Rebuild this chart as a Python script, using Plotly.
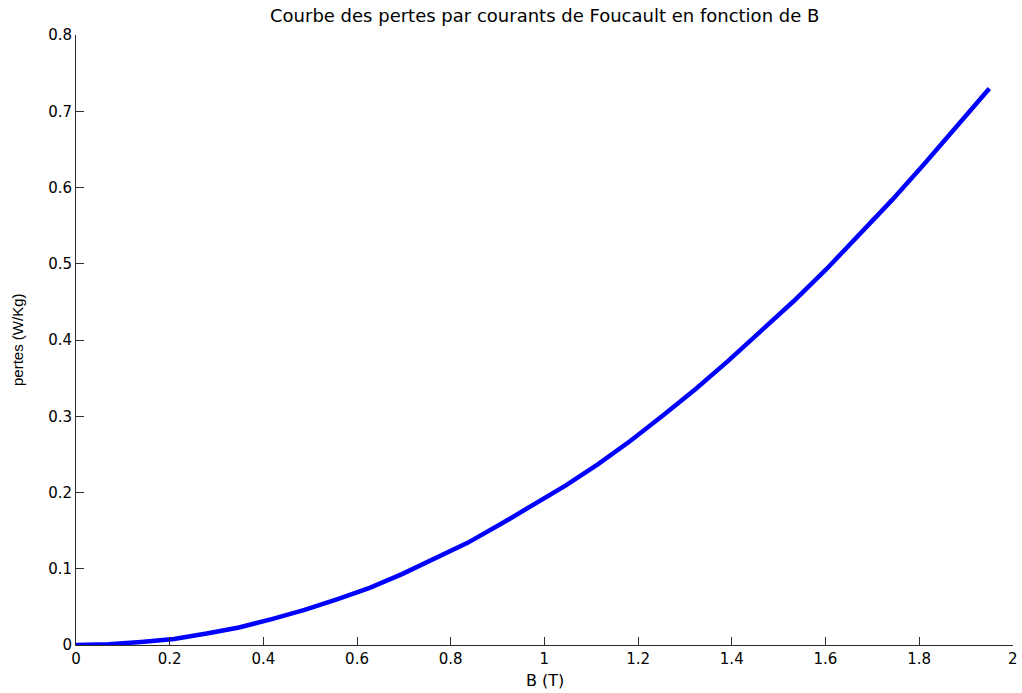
import plotly.graph_objects as go

# Data
B_values = [0.0, 0.070, 0.139, 0.209, 0.279, 0.348, 0.418, 0.488, 0.557, 0.627, 0.696,
            0.766, 0.836, 0.905, 0.975, 1.045, 1.114, 1.184, 1.253, 1.323, 1.393, 1.462,
            1.532, 1.602, 1.671, 1.741, 1.811, 1.880, 1.950]
pertes = [0.0, 0.001, 0.004, 0.008, 0.015, 0.023, 0.034, 0.046, 0.060, 0.075, 0.093,
          0.113, 0.134, 0.158, 0.183, 0.209, 0.237, 0.268, 0.301, 0.336, 0.373, 0.411,
          0.451, 0.493, 0.537, 0.583, 0.631, 0.681, 0.730]
x_ticks = [0, 0.2, 0.4, 0.6, 0.8, 1, 1.2, 1.4, 1.6, 1.8, 2]
x_tick_labels = ["0", "0.2", "0.4", "0.6", "0.8", "1", "1.2", "1.4", "1.6", "1.8", "2"]
y_ticks = [0, 0.1, 0.2, 0.3, 0.4, 0.5, 0.6, 0.7, 0.8]
y_tick_labels = ["0", "0.1", "0.2", "0.3", "0.4", "0.5", "0.6", "0.7", "0.8"]

title_text = "Courbe des pertes par courants de Foucault en fonction de B"
x_label = "B (T)"
y_label = "pertes (W/Kg)"

W, H = 1022, 693
ML, MR, MT, MB = 76, 9, 35, 48

fig = go.Figure()
fig.add_trace(go.Scatter(x=B_values, y=pertes, mode="lines",
                         line=dict(color="#0000ff", width=4.5), showlegend=False))

wide_font = "DejaVu Sans, Verdana, sans-serif"
axis_common = dict(showgrid=False, zeroline=False, showline=True, linecolor="#2b2b2b",
                   linewidth=1, ticks="inside", ticklen=8, tickwidth=1, tickcolor="#2b2b2b",
                   automargin=False,
                   tickfont=dict(family=wide_font, size=15, color="#000000"))

fig.update_layout(
    width=W, height=H,
    margin=dict(l=ML, r=MR, t=MT, b=MB, autoexpand=False),
    paper_bgcolor="white", plot_bgcolor="white",
    xaxis=dict(range=[0, 2.0005], tickvals=x_ticks, ticktext=x_tick_labels, **axis_common),
    yaxis=dict(range=[0, 0.8003], tickvals=y_ticks, ticktext=y_tick_labels, **axis_common),
    annotations=[
        dict(text=title_text, xref="paper", yref="paper", x=0.5, xanchor="center",
             y=1 + (MT - 16) / (H - MT - MB), yanchor="middle", showarrow=False,
             font=dict(family=wide_font, size=18, color="#000000")),
        dict(text=x_label, xref="paper", yref="paper", x=0.5, xanchor="center",
             y=-(680 - (H - MB)) / (H - MT - MB), yanchor="middle", showarrow=False,
             font=dict(family=wide_font, size=16, color="#000000")),
        dict(text=y_label, xref="paper", yref="paper", x=-(ML - 17) / (W - ML - MR),
             xanchor="center", y=0.5, yanchor="middle", textangle=-90, showarrow=False,
             font=dict(family="Liberation Sans, Arial, sans-serif", size=15, color="#000000")),
    ],
)

fig.write_html("out.html", config={"displayModeBar": False},
               post_script="document.body.style.margin='0';document.body.style.overflow='hidden';")
